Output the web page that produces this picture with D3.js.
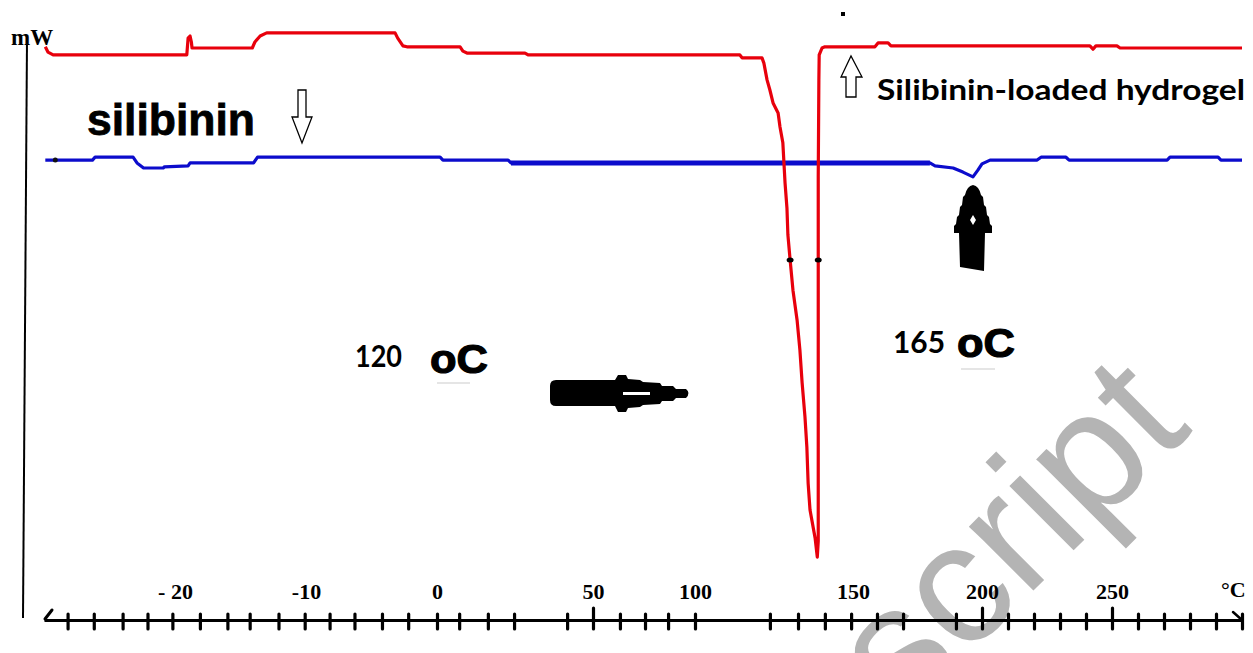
<!DOCTYPE html>
<html>
<head>
<meta charset="utf-8">
<script src="https://cdn.jsdelivr.net/npm/d3@7"></script>
<style>
  html, body { margin: 0; padding: 0; background: #fff; }
  svg { display: block; }
</style>
</head>
<body>
<div id="chart"></div>
<script>
// temperature (°C) and heat flow (mW)
var hydrogelT = [-29.9, -29.7, -29.3, -19.1, -19.0, -18.85, -18.75, -18.7, -14.1, -13.9, -13.5, -13.0,
  -3.2, -3.0, -2.6, -2.3, 7.4, 8.3, 9.6, 28.2, 29.2, 114.2, 114.9, 121.2, 121.8, 122.8, 123.7, 124.7,
  126.3, 126.9, 127.8, 128.5, 129.1, 129.4, 130.1, 131.0, 132.3, 133.2, 133.9, 134.8, 135.4, 135.8,
  136.4, 138.0, 138.7, 139.0, 139.0, 139.2, 139.3, 140.2, 141.1, 158.5, 159.7, 163.6, 164.7, 241.5,
  242.7, 243.8, 251.9, 253.1, 300];
var hydrogelMW = [-0.10, -0.21, -0.27, -0.27, 0.08, 0.125, 0.0, -0.125, -0.125, 0.0, 0.125, 0.19,
  0.19, 0.08, -0.08, -0.10, -0.10, -0.19, -0.23, -0.23, -0.27, -0.27, -0.33, -0.33, -0.44, -0.79, -1.0, -1.27,
  -1.48, -1.77, -2.10, -2.94, -3.46, -4.02, -4.54, -5.17, -5.79, -6.42, -7.10, -7.81, -8.44, -9.19,
  -9.75, -10.33, -10.73, -10.4, -2.81, -0.79, -0.27, -0.125, -0.10, -0.10, -0.02, -0.02, -0.08, -0.08,
  -0.15, -0.08, -0.08, -0.125, -0.125];

var silibininT = [-29.9, -26.3, -26.1, -23.2, -22.9, -22.4, -20.9, -20.8, -19.0, -18.85, -14.0, -13.7,
  1.0, 1.9, 22.8, 23.7, 179.8, 181.8, 188.8, 192.6, 196.5, 198.4, 200, 203.1, 221.2, 222.7, 232.3,
  233.5, 271.2, 272.3, 290.8, 291.9, 300];
var silibininMW = [-2.46, -2.46, -2.40, -2.40, -2.52, -2.625, -2.625, -2.60, -2.58, -2.52, -2.52, -2.40,
  -2.40, -2.46, -2.46, -2.52, -2.52, -2.58, -2.625, -2.71, -2.81, -2.67, -2.54, -2.46, -2.46, -2.40, -2.40,
  -2.46, -2.46, -2.40, -2.40, -2.46, -2.46];

// x axis: labelled values, and the small ticks drawn on the line
var xLabelValues = [-20, -10, 0, 50, 100, 150, 200, 250];
var xLabelTexts = ["- 20", "-10", "0", "50", "100", "150", "200", "250"];
var xTickValues = [-28.2, -26.2, -24.0, -22.1, -20.2, -18.1, -16.0, -14.3, -12.1, -10.1, -8.2, -6.3,
  -4.2, -2.2, 0, 7.1, 16.3, 24.7, 41.7, 50, 63.2, 75.5, 86.8, 100, 123.7, 132.6, 141.1, 149.4, 159.3,
  169.4, 189.9, 200, 210, 220, 230, 240, 250, 260, 270, 280, 290, 300];
var xMajorTicks = [50, 200, 250];

// marked points on the peaks
var peakMarksT = [130.1, 139.0];
var peakMarksMW = [-4.54, -4.54];

var width = 1253, height = 653;

// the printed temperature axis is not linear, so the scale is piecewise
var x = d3.scaleLinear()
  .domain([-30, -20, -10, 0, 50, 100, 150, 200, 250, 300])
  .range([44, 175, 306, 437, 593, 695, 853, 982, 1112, 1242]);

var y = d3.scaleLinear()
  .domain([-12, 0])
  .range([618, 42]);

var svg = d3.select("#chart")
  .append("svg")
  .attr("width", width)
  .attr("height", height);

// watermark sits under everything
svg.append("text")
  .attr("transform", "translate(1194,430) rotate(-45)")
  .attr("text-anchor", "end")
  .style("font", "172px 'Liberation Sans', Arial, sans-serif")
  .style("fill", "#b4b4b4")
  .text("Manuscript");

// y axis: a plain line with mW on top
svg.append("line")
  .attr("x1", 27).attr("y1", 40)
  .attr("x2", 23).attr("y2", 618)
  .attr("stroke", "#000")
  .attr("stroke-width", 2);

svg.append("text")
  .attr("x", 11).attr("y", 45)
  .style("font", "bold 23px 'Liberation Serif', 'Times New Roman', serif")
  .text("mW");

// x axis small ticks
var axisY = 620;
var tickAxis = svg.append("g")
  .attr("transform", "translate(0," + axisY + ")")
  .call(d3.axisBottom(x).tickValues(xTickValues).tickSizeOuter(0).tickFormat(""));

tickAxis.select(".domain")
  .attr("stroke", "#000")
  .attr("stroke-width", 3);
tickAxis.selectAll(".tick line")
  .attr("stroke", "#000")
  .attr("stroke-width", 3.2)
  .attr("stroke-linecap", "round")
  .attr("y1", function(d) { return xMajorTicks.indexOf(d) >= 0 ? -12 : -6; })
  .attr("y2", 9);

// curled ends of the axis
svg.append("path")
  .attr("d", "M" + (x(-30) + 1) + "," + (axisY - 1) + " L" + (x(-30) + 8) + "," + (axisY - 10))
  .attr("stroke", "#000").attr("stroke-width", 3).attr("stroke-linecap", "round").attr("fill", "none");
svg.append("path")
  .attr("d", "M" + (x(300) - 9) + "," + (axisY - 8) + " L" + x(300) + "," + axisY)
  .attr("stroke", "#000").attr("stroke-width", 2.5).attr("stroke-linecap", "round").attr("fill", "none");

// x axis labels above the line
var labelAxis = svg.append("g")
  .attr("transform", "translate(0," + axisY + ")")
  .call(d3.axisTop(x).tickValues(xLabelValues).tickSize(0).tickPadding(21)
    .tickFormat(function(d, i) { return xLabelTexts[i]; }));
labelAxis.select(".domain").remove();
labelAxis.selectAll("text")
  .style("font", "bold 22px 'Liberation Serif', 'Times New Roman', serif")
  .attr("fill", "#000");

svg.append("text")
  .attr("x", 1221).attr("y", 597)
  .style("font", "bold 22px 'Liberation Serif', 'Times New Roman', serif")
  .text("°C");

// curves
var line = d3.line()
  .x(function(d) { return x(d[0]); })
  .y(function(d) { return y(d[1]); });

var silibinin = silibininT.map(function(t, i) { return [t, silibininMW[i]]; });
var hydrogel = hydrogelT.map(function(t, i) { return [t, hydrogelMW[i]]; });

svg.append("path")
  .datum(silibinin)
  .attr("fill", "none")
  .attr("stroke", "#0c0ccc")
  .attr("stroke-width", 3.2)
  .attr("stroke-linejoin", "round")
  .attr("d", line);

// the middle stretch of the silibinin trace is printed heavier
svg.append("path")
  .datum(silibinin.filter(function(d) { return d[0] >= 23.7 && d[0] <= 179.8; }))
  .attr("fill", "none")
  .attr("stroke", "#0c0ccc")
  .attr("stroke-width", 5)
  .attr("d", line);

svg.append("path")
  .datum(hydrogel)
  .attr("fill", "none")
  .attr("stroke", "#e8000c")
  .attr("stroke-width", 3.2)
  .attr("stroke-linejoin", "round")
  .attr("d", line);

// black dots
svg.selectAll(".peakmark")
  .data(peakMarksT)
  .enter().append("ellipse")
  .attr("class", "peakmark")
  .attr("cx", function(d) { return x(d); })
  .attr("cy", function(d, i) { return y(peakMarksMW[i]); })
  .attr("rx", 3.5).attr("ry", 2.5)
  .attr("fill", "#000");

svg.append("circle")
  .attr("cx", x(silibininT[0]) + 10).attr("cy", y(silibininMW[0]))
  .attr("r", 2.5).attr("fill", "#111");

svg.append("rect")
  .attr("x", 841).attr("y", 12).attr("width", 4).attr("height", 4)
  .attr("fill", "#000");

// labels
svg.append("text")
  .attr("x", 87).attr("y", 135)
  .style("font", "bold 44px 'Liberation Sans', Arial, sans-serif")
  .style("stroke", "#000").style("stroke-width", 0.8)
  .attr("textLength", 168).attr("lengthAdjust", "spacingAndGlyphs")
  .text("silibinin");

svg.append("text")
  .attr("x", 877).attr("y", 100)
  .style("font", "bold 29px Lato, 'Open Sans', sans-serif")
  .attr("textLength", 368).attr("lengthAdjust", "spacingAndGlyphs")
  .text("Silibinin-loaded hydrogel");

svg.append("text")
  .attr("x", 355).attr("y", 367)
  .style("font", "bold 31px Lato, 'Open Sans', sans-serif")
  .attr("textLength", 47).attr("lengthAdjust", "spacingAndGlyphs")
  .text("120");

svg.append("text")
  .attr("x", 893).attr("y", 353)
  .style("font", "bold 31px Lato, 'Open Sans', sans-serif")
  .attr("textLength", 52).attr("lengthAdjust", "spacingAndGlyphs")
  .text("165");

[[430, 373], [957, 357]].forEach(function(p) {
  svg.append("text")
    .attr("x", p[0]).attr("y", p[1])
    .style("font", "bold 41px 'Liberation Sans', Arial, sans-serif")
    .style("stroke", "#000").style("stroke-width", 1.2)
    .attr("textLength", 58).attr("lengthAdjust", "spacingAndGlyphs")
    .text("oC");
});

// faint rules under the oC labels
svg.append("line").attr("x1", 437).attr("x2", 470).attr("y1", 383).attr("y2", 383)
  .attr("stroke", "#ddd").attr("stroke-width", 1.5);
svg.append("line").attr("x1", 961).attr("x2", 995).attr("y1", 369).attr("y2", 369)
  .attr("stroke", "#ddd").attr("stroke-width", 1.5);

// hollow arrows
svg.append("path")
  .attr("d", "M298,90 L306,90 L306,117 L312,117 L302,143 L292,117 L298,117 Z")
  .attr("fill", "#fff").attr("stroke", "#000").attr("stroke-width", 1.3);

svg.append("path")
  .attr("d", "M846,97 L856,97 L856,77 L862,77 L851,56 L841,77 L846,77 Z")
  .attr("fill", "#fff").attr("stroke", "#000").attr("stroke-width", 1.3);

// solid pencil-like arrows
svg.append("path")
  .attr("d", "M556,380 L615,380 L618,375 L626,375 L628,379 L640,380 L643,382 L660,383 L662,386 L673,386 L676,389 L686,389 Q691,393 686,398 L676,398 L673,401 L662,401 L660,404 L643,405 L640,407 L628,408 L626,412 L618,412 L615,406 L556,406 Q550,406 550,400 L550,386 Q550,380 556,380 Z")
  .attr("fill", "#000");
svg.append("path")
  .attr("d", "M623,392 L650,392 L650,395 L623,395 Z")
  .attr("fill", "#fff");

svg.append("path")
  .attr("d", "M973,185 Q979,186 981,195 L983,197 L984,205 L986,207 L987,215 L989,217 L990,224 L992,226 L992,233 L985,233 L984,271 L960,267 L959,233 L954,233 L954,226 L956,224 L957,217 L959,215 L960,207 L962,205 L963,197 L965,195 Q967,186 973,185 Z")
  .attr("fill", "#000");
svg.append("path")
  .attr("d", "M973,215 L976,220 L973,225 L970,220 Z")
  .attr("fill", "#fff");
</script>
</body>
</html>
